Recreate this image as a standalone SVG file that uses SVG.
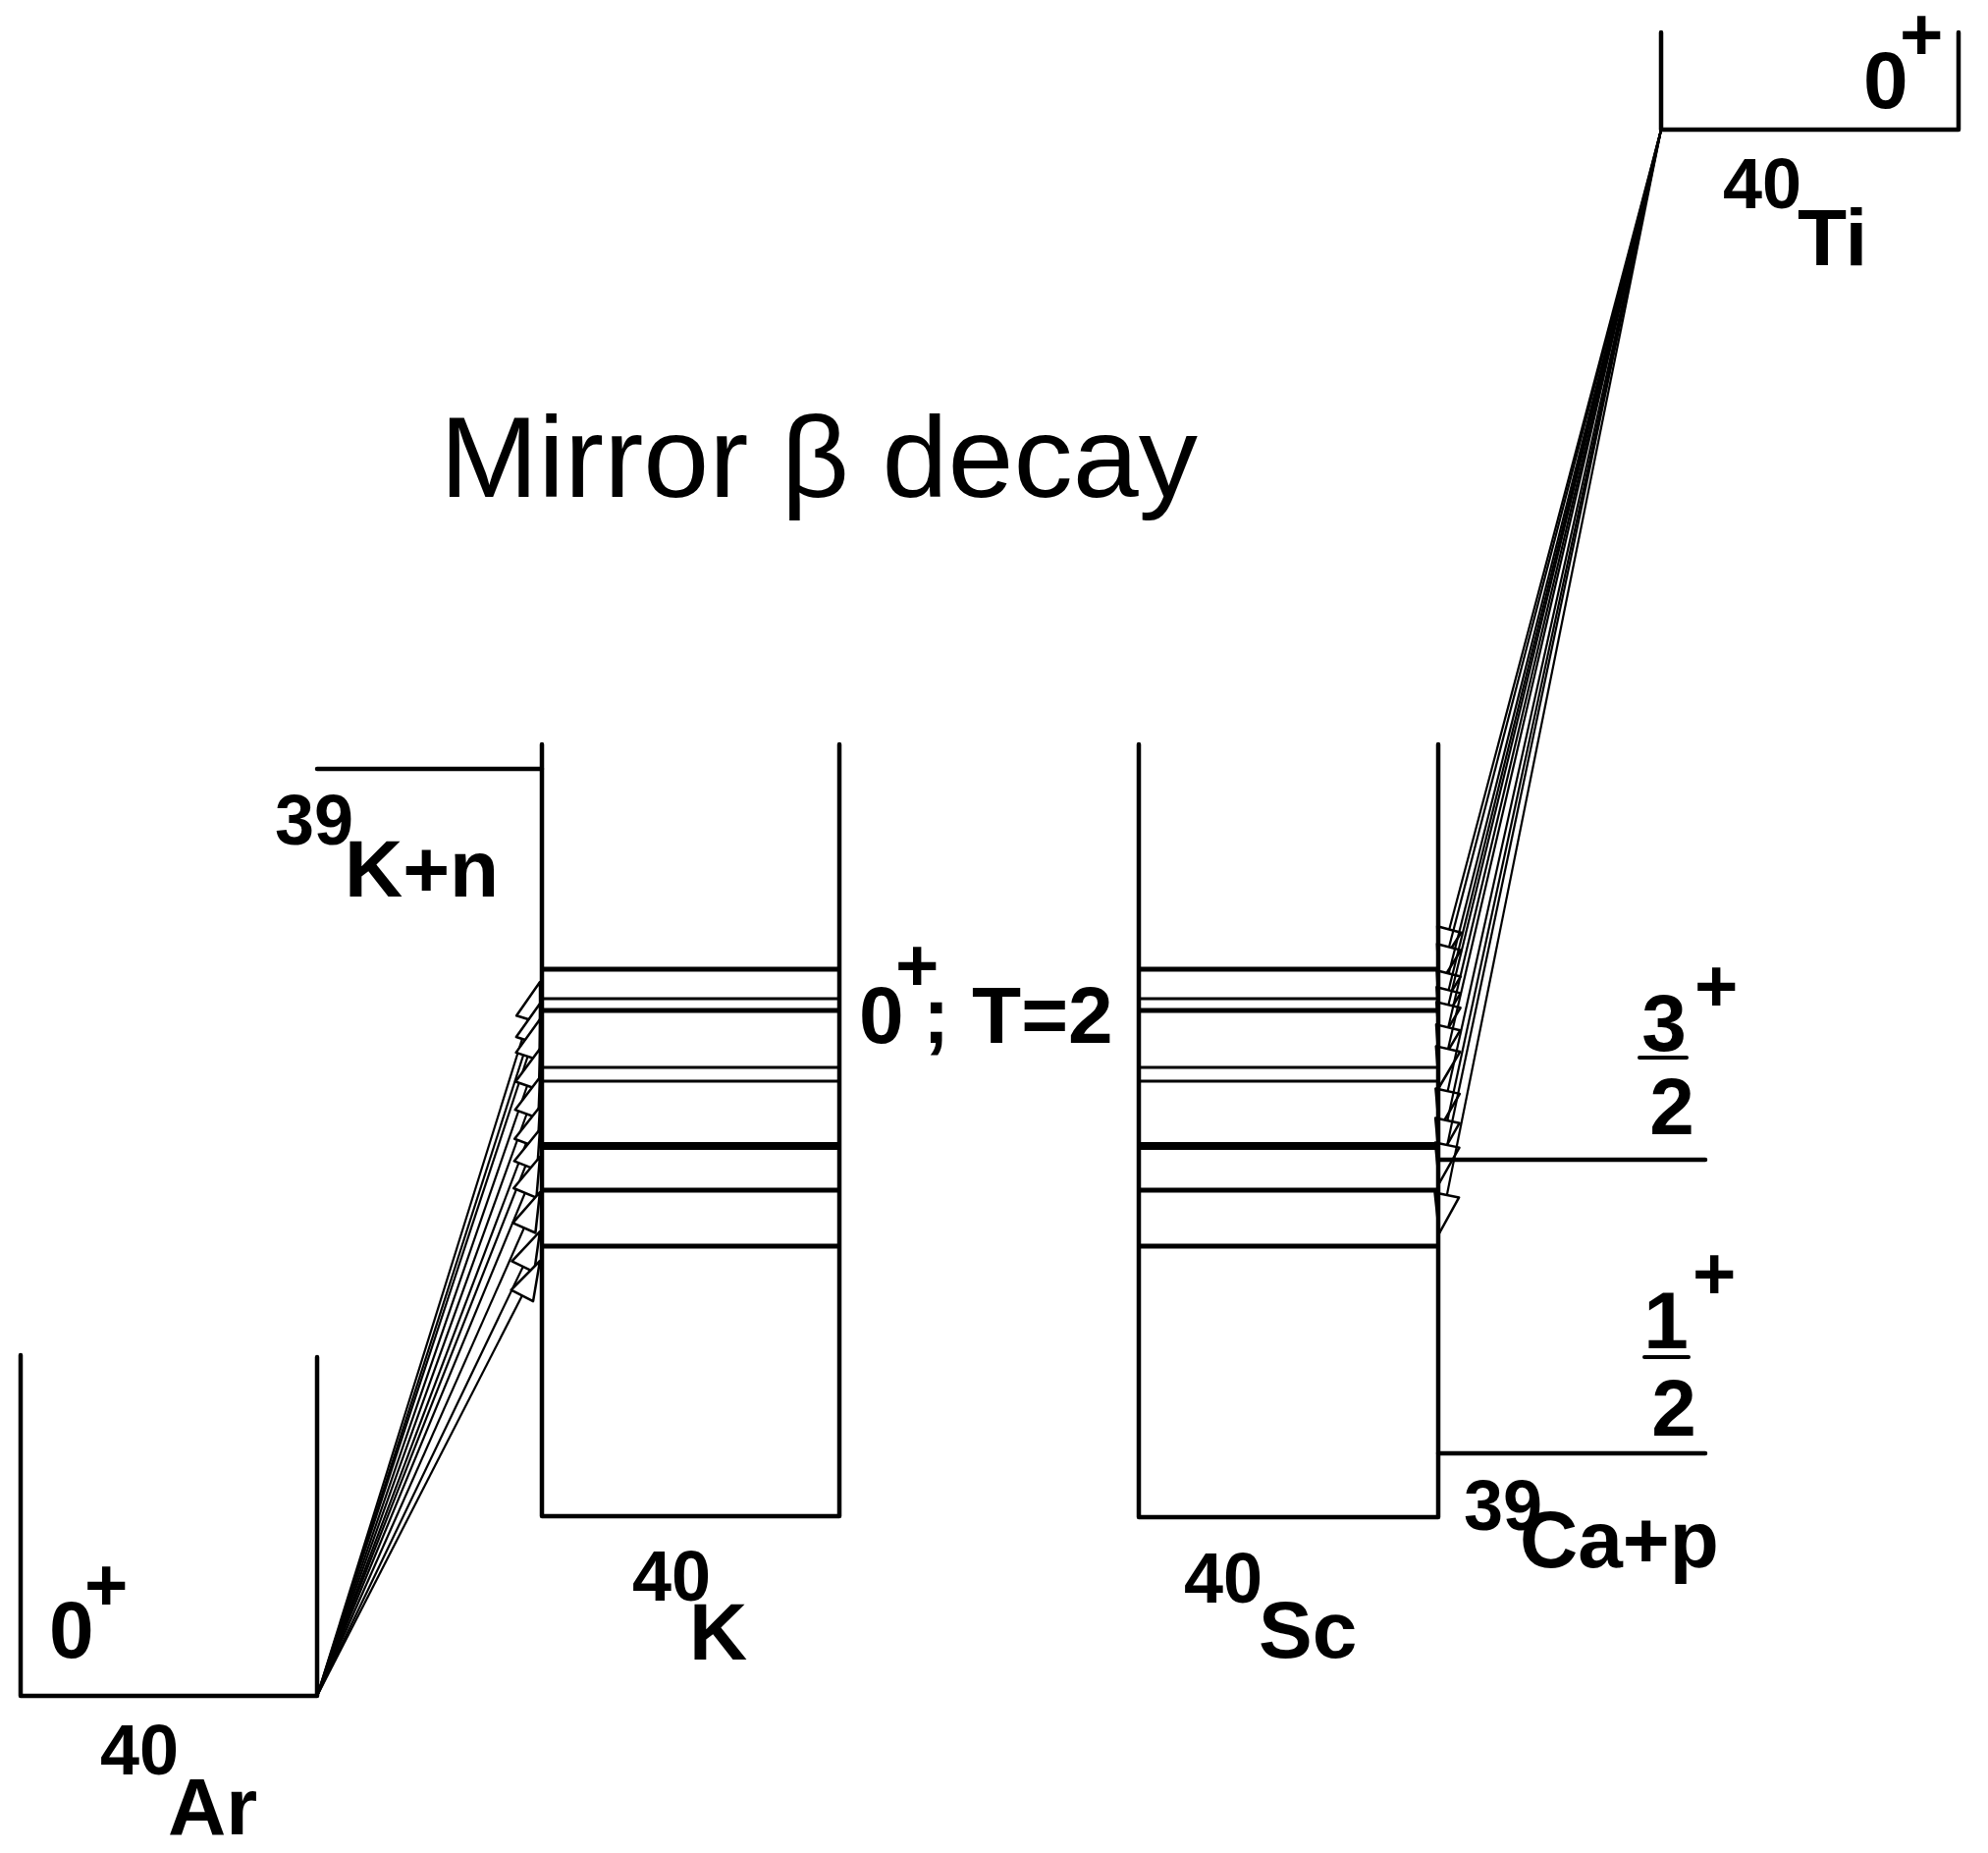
<svg xmlns="http://www.w3.org/2000/svg" width="2025" height="1887" viewBox="0 0 2025 1887">
<style>
.ln{stroke:#000;stroke-width:4.5;fill:none;stroke-linecap:round;stroke-linejoin:round}
.lv{stroke:#000;fill:none}
.t{font-family:"Liberation Sans",Arial,sans-serif;font-weight:bold;font-size:82px;fill:#000}
.s{font-family:"Liberation Sans",Arial,sans-serif;font-weight:bold;font-size:72px;fill:#000}
.p{font-family:"Liberation Sans",Arial,sans-serif;font-weight:bold;font-size:76px;fill:#000}
.title{font-family:"Liberation Sans",Arial,sans-serif;font-size:116px;fill:#000}
.fan{stroke:#000;stroke-width:2.2;fill:none}
</style>
<defs>
<marker id="tri" markerUnits="userSpaceOnUse" markerWidth="44" markerHeight="30" viewBox="-2 -2 42 28" refX="38" refY="12" orient="auto">
<path d="M0,0 L38,12 L0,24 Z" fill="#fff" stroke="#000" stroke-width="2.4" stroke-linejoin="round"/>
</marker>
</defs>
<rect width="2025" height="1887" fill="#fff"/>

<g id="title">
<text class="title" x="448" y="506" textLength="772" lengthAdjust="spacingAndGlyphs">Mirror β decay</text>
</g>

<g id="connectors">
<g class="fan" marker-end="url(#tri)">
<line x1="323" y1="1727" x2="550" y2="1000"/>
<line x1="323" y1="1727" x2="550" y2="1022"/>
<line x1="323" y1="1727" x2="550" y2="1038"/>
<line x1="323" y1="1727" x2="550" y2="1068"/>
<line x1="323" y1="1727" x2="550" y2="1097"/>
<line x1="323" y1="1727" x2="550" y2="1127"/>
<line x1="323" y1="1727" x2="550" y2="1150"/>
<line x1="323" y1="1727" x2="550" y2="1178"/>
<line x1="323" y1="1727" x2="550" y2="1214"/>
<line x1="323" y1="1727" x2="550" y2="1254"/>
<line x1="323" y1="1727" x2="550" y2="1284"/>
</g>
<g class="fan" marker-end="url(#tri)">
<line x1="1692" y1="132" x2="1466" y2="985"/>
<line x1="1692" y1="132" x2="1466" y2="1003"/>
<line x1="1692" y1="132" x2="1466" y2="1030"/>
<line x1="1692" y1="132" x2="1466" y2="1047"/>
<line x1="1692" y1="132" x2="1466" y2="1062"/>
<line x1="1692" y1="132" x2="1466" y2="1085"/>
<line x1="1692" y1="132" x2="1466" y2="1107"/>
<line x1="1692" y1="132" x2="1466" y2="1150"/>
<line x1="1692" y1="132" x2="1466" y2="1180"/>
<line x1="1692" y1="132" x2="1466" y2="1205"/>
<line x1="1692" y1="132" x2="1466" y2="1256"/>
</g>
</g>

<g id="Ar40">
<polyline class="ln" points="21,1380 21,1727 323,1727 323,1382"/>
<text class="t" x="50" y="1688">0</text>
<text class="p" x="86" y="1640">+</text>
<text class="s" x="102" y="1807">40</text>
<text class="t" x="171" y="1868">Ar</text>
</g>

<g id="K40">
<polyline class="ln" points="552,758 552,1544 855,1544 855,758"/>
<line class="lv" x1="552" y1="987" x2="855" y2="987" stroke-width="5"/>
<line class="lv" x1="552" y1="1017" x2="855" y2="1017" stroke-width="3"/>
<line class="lv" x1="552" y1="1029" x2="855" y2="1029" stroke-width="5"/>
<line class="lv" x1="552" y1="1087" x2="855" y2="1087" stroke-width="3"/>
<line class="lv" x1="552" y1="1101" x2="855" y2="1101" stroke-width="3"/>
<line class="lv" x1="552" y1="1167" x2="855" y2="1167" stroke-width="8"/>
<line class="lv" x1="552" y1="1212" x2="855" y2="1212" stroke-width="5"/>
<line class="lv" x1="552" y1="1269" x2="855" y2="1269" stroke-width="5"/>
<text class="s" x="644" y="1630">40</text>
<text class="t" x="702" y="1690">K</text>
<text class="t" x="875" y="1062">0</text>
<text class="p" x="912" y="1009">+</text>
<text class="t" x="940" y="1062">; T=2</text>
</g>

<g id="K39n">
<line class="ln" x1="323" y1="783" x2="552" y2="783"/>
<text class="s" x="280" y="860">39</text>
<text class="t" x="351" y="913">K+n</text>
</g>

<g id="Sc40">
<polyline class="ln" points="1160,758 1160,1545 1465,1545 1465,758"/>
<line class="lv" x1="1160" y1="987" x2="1465" y2="987" stroke-width="5"/>
<line class="lv" x1="1160" y1="1017" x2="1465" y2="1017" stroke-width="3"/>
<line class="lv" x1="1160" y1="1029" x2="1465" y2="1029" stroke-width="5"/>
<line class="lv" x1="1160" y1="1087" x2="1465" y2="1087" stroke-width="3"/>
<line class="lv" x1="1160" y1="1101" x2="1465" y2="1101" stroke-width="3"/>
<line class="lv" x1="1160" y1="1167" x2="1465" y2="1167" stroke-width="8"/>
<line class="lv" x1="1160" y1="1212" x2="1465" y2="1212" stroke-width="5"/>
<line class="lv" x1="1160" y1="1269" x2="1465" y2="1269" stroke-width="5"/>
<text class="s" x="1206" y="1632">40</text>
<text class="t" x="1282" y="1688">Sc</text>
</g>

<g id="Ca39p">
<line class="ln" x1="1465" y1="1181" x2="1737" y2="1181"/>
<line class="ln" x1="1465" y1="1480" x2="1737" y2="1480"/>
<text class="t" x="1695" y="1070" text-anchor="middle">3</text>
<line class="ln" x1="1670" y1="1077" x2="1718" y2="1077" style="stroke-width:4"/>
<text class="t" x="1703" y="1155" text-anchor="middle">2</text>
<text class="p" x="1726" y="1030">+</text>
<text class="t" x="1697" y="1373" text-anchor="middle">1</text>
<line class="ln" x1="1675" y1="1382" x2="1720" y2="1382" style="stroke-width:4"/>
<text class="t" x="1705" y="1462" text-anchor="middle">2</text>
<text class="p" x="1724" y="1323">+</text>
<text class="s" x="1491" y="1558">39</text>
<text class="t" x="1548" y="1596">Ca+p</text>
</g>

<g id="Ti40">
<polyline class="ln" points="1692,33 1692,132 1995,132 1995,33"/>
<text class="t" x="1898" y="110">0</text>
<text class="p" x="1935" y="61">+</text>
<text class="s" x="1755" y="212">40</text>
<text class="t" x="1831" y="270">Ti</text>
</g>
</svg>
